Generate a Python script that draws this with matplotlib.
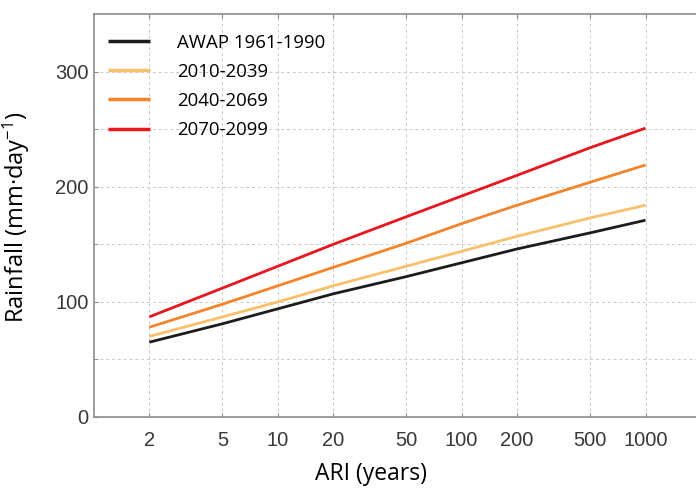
import matplotlib.pyplot as plt
from matplotlib.ticker import FixedLocator, NullFormatter

plt.rcParams["mathtext.fontset"] = "custom"
plt.rcParams["mathtext.rm"] = "Open Sans"
plt.rcParams["mathtext.it"] = "Open Sans:italic"

# ARI (years) and rainfall (mm/day)
ari = [2, 5, 10, 20, 50, 100, 200, 500, 1000]
awap_1961_1990 = [65, 81, 94, 107, 122, 134, 146, 160, 171]
p2010_2039 = [70, 87, 100, 114, 131, 144, 157, 173, 184]
p2040_2069 = [78, 98, 114, 130, 151, 168, 184, 204, 219]
p2070_2099 = [87, 112, 131, 150, 174, 192, 210, 234, 251]

series = [
    ("AWAP 1961-1990", awap_1961_1990, "#1c1c1c"),
    ("2010-2039", p2010_2039, "#f9c06a"),
    ("2040-2069", p2040_2069, "#f5832a"),
    ("2070-2099", p2070_2099, "#e8161d"),
]

yticks = [0, 100, 200, 300]
yminor = [50, 150, 250]

fig = plt.figure(figsize=(6.96, 4.9), dpi=100)
ax = fig.add_axes([0.135, 0.149, 0.872, 0.822])

for label, vals, color in series:
    ax.plot(ari, vals, color=color, lw=2.0, label=label, solid_capstyle="butt")

ax.set_xscale("log")
ax.set_xlim(1, 2000)
ax.set_ylim(0, 350)

ax.xaxis.set_major_locator(FixedLocator(ari))
ax.xaxis.set_minor_locator(FixedLocator([]))
ax.set_xticklabels([str(a) for a in ari])
ax.yaxis.set_major_locator(FixedLocator(yticks))
ax.yaxis.set_minor_locator(FixedLocator(yminor))
ax.yaxis.set_minor_formatter(NullFormatter())

ax.grid(which="both", color="#c8c8c8", linestyle=(0, (3, 3)), linewidth=0.7)
ax.set_axisbelow(True)

ax.tick_params(which="both", direction="in", length=3, color="#888888",
               top=True, labelsize=14.5, labelcolor="#383838")
ax.tick_params(axis="y", pad=4)
ax.tick_params(axis="x", pad=10)
for lab in ax.get_xticklabels() + ax.get_yticklabels():
    lab.set_family("Liberation Sans")

for side in ["left", "top", "bottom"]:
    ax.spines[side].set_color("#8c8c8c")
    ax.spines[side].set_linewidth(1.2)
ax.spines["right"].set_visible(False)

ax.set_ylabel("Rainfall (mm·day$^{\\mathrm{-1}}$)", family="Open Sans", fontsize=17)
ax.yaxis.set_label_coords(-0.102, 0.497)
ax.set_xlabel("ARI (years)", family="Open Sans", fontsize=16.5)
ax.xaxis.set_label_coords(0.456, -0.112)

leg = ax.legend(loc="upper left", bbox_to_anchor=(0.023, 0.952), frameon=False,
                borderpad=0, borderaxespad=0, handlelength=2.26, handletextpad=1.45,
                labelspacing=0.6, prop={"family": "Open Sans", "size": 13.4})
for line in leg.get_lines():
    line.set_linewidth(2.5)

fig.savefig("out.png", dpi=100)
